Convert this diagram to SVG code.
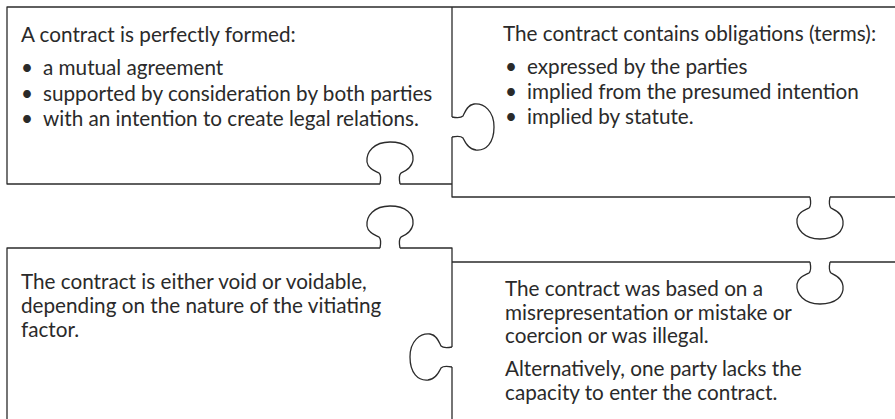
<svg xmlns="http://www.w3.org/2000/svg" xmlns:xlink="http://www.w3.org/1999/xlink" width="895" height="419" viewBox="0 0 895 419">
<style>
.edge{fill:none;stroke:#2b2b2b;stroke-width:1.3;stroke-linejoin:round;stroke-linecap:butt}
text{font-family:Lato,"Open Sans","Liberation Sans",sans-serif;font-size:20.7px;fill:#2a2a2a}
</style>
<defs>
<path id="tab" d="M 0 0 C 1 5, 1 9, -1 11 C -5 13, -12 15, -13 22 C -14 32, -6 42, 10 42 C 26 42, 34 34, 33 24 C 32 16, 25 13, 21 11 C 19 9, 19 5, 20 0"/>
</defs>
<rect width="895" height="419" fill="#ffffff"/>
<g id="connectors" class="edge">
<path d="M 895 7 H 7 V 184 H 380 M 400 184 H 452 M 452 7 V 117 M 452 137 V 197 H 810 M 830 197 H 895"/>
<path d="M 7 419 V 248 H 380 M 400 248 H 452 V 347 M 452 367 V 419 M 452 262 H 810 M 830 262 H 895"/>
<use xlink:href="#tab" transform="translate(380,184) scale(1,-1)"/>
<use xlink:href="#tab" transform="translate(380,248) scale(1,-1)"/>
<use xlink:href="#tab" transform="matrix(0,1,1,0,452,117)"/>
<use xlink:href="#tab" transform="matrix(0,1,-1,0,452,347)"/>
<use xlink:href="#tab" transform="translate(810,197)"/>
<use xlink:href="#tab" transform="translate(810,262)"/>
</g>
<g id="node1">
<text x="21" y="42">A contract is perfectly formed:</text>
<text x="21" y="75">•</text><text x="43" y="75">a mutual agreement</text>
<text x="21" y="101">•</text><text x="43" y="101">supported by consideration by both parties</text>
<text x="21" y="126">•</text><text x="43" y="126">with an intention to create legal relations.</text>
</g>
<g id="node2">
<text x="503" y="41">The contract contains obligations (terms):</text>
<text x="505" y="74">•</text><text x="527" y="74">expressed by the parties</text>
<text x="505" y="99">•</text><text x="527" y="99">implied from the presumed intention</text>
<text x="505" y="124">•</text><text x="527" y="124">implied by statute.</text>
</g>
<g id="node3">
<text x="21" y="289">The contract is either void or voidable,</text>
<text x="21" y="313">depending on the nature of the vitiating</text>
<text x="21" y="337">factor.</text>
</g>
<g id="node4">
<text x="505" y="296">The contract was based on a</text>
<text x="505" y="320">misrepresentation or mistake or</text>
<text x="505" y="343">coercion or was illegal.</text>
<text x="505" y="376">Alternatively, one party lacks the</text>
<text x="505" y="400">capacity to enter the contract.</text>
</g>
</svg>
